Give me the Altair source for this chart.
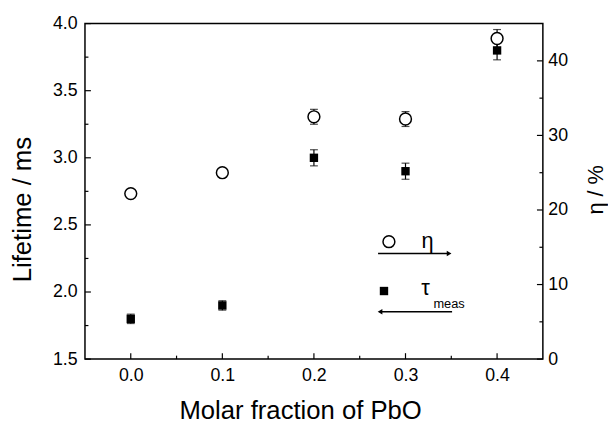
import altair as alt
import pandas as pd

# ---- data ----
x_frac = [0.0, 0.1, 0.2, 0.3, 0.4]
lifetime = [1.80, 1.90, 3.00, 2.90, 3.80]          # tau_meas / ms
lifetime_err = [0.035, 0.035, 0.06, 0.06, 0.07]
eta = [22.2, 25.0, 32.5, 32.2, 43.0]               # eta / %
eta_err = [0.5, 0.5, 1.0, 1.0, 1.2]

x_major = [0.0, 0.1, 0.2, 0.3, 0.4]
x_minor = [0.05, 0.15, 0.25, 0.35]
left_major = [1.5, 2.0, 2.5, 3.0, 3.5, 4.0]
left_minor = [1.75, 2.25, 2.75, 3.25, 3.75]
right_major = [0, 10, 20, 30, 40]
right_minor = [5, 15, 25, 35]

legend_eta = ["η"]
legend_tau = ["τ"]
legend_tau_sub = ["meas"]

df = pd.DataFrame({
    "x": x_frac,
    "tau": lifetime,
    "tau_lo": [v - e for v, e in zip(lifetime, lifetime_err)],
    "tau_hi": [v + e for v, e in zip(lifetime, lifetime_err)],
    "eta": eta,
    "eta_lo": [v - e for v, e in zip(eta, eta_err)],
    "eta_hi": [v + e for v, e in zip(eta, eta_err)],
})

W, H = 464, 340
FONT = "Liberation Sans"

XS = alt.Scale(domain=[-0.05, 0.45], nice=False, zero=False)
YL = alt.Scale(domain=[1.5, 4.0], nice=False, zero=False)
YR = alt.Scale(domain=[0, 45], nice=False, zero=False)

x_axis = alt.Axis(values=x_major, format=".1f", title="Molar fraction of PbO",
                  labelPadding=8, titleX=218, titleY=52, titleBaseline="middle",
                  titleAlign="center")
yl_axis = alt.Axis(values=left_major, format=".1f", title="Lifetime / ms",
                   labelPadding=8, titleAngle=270, titleX=-63, titleY=188,
                   titleBaseline="middle", titleAlign="center")
yr_axis = alt.Axis(values=right_major, format="d", title="η  /  %", orient="right",
                   labelPadding=5, titleAngle=270, titleX=53, titleY=168,
                   titleBaseline="middle", titleAlign="center", titleFontSize=22)

base = alt.Chart(df)
BLACK = "black"

def X(field):
    return alt.X(field, scale=XS, axis=x_axis)

def YLf(field):
    return alt.Y(field, scale=YL, axis=yl_axis, title="Lifetime / ms")

def YRf(field):
    return alt.Y(field, scale=YR, axis=yr_axis, title="η  /  %")

# ---- left axis group: lifetime ----
tau_bar = base.mark_rule(color=BLACK, strokeWidth=1.2).encode(
    x=X("x:Q"), y=YLf("tau_lo:Q"), y2="tau_hi:Q")
tau_cap_lo = base.mark_tick(orient="horizontal", size=8, thickness=1.2, color=BLACK).encode(
    x=X("x:Q"), y=YLf("tau_lo:Q"))
tau_cap_hi = base.mark_tick(orient="horizontal", size=8, thickness=1.2, color=BLACK).encode(
    x=X("x:Q"), y=YLf("tau_hi:Q"))
tau_pts = base.mark_point(shape="square", filled=True, size=72, color=BLACK, opacity=1).encode(
    x=X("x:Q"), y=YLf("tau:Q"))

def rules_y(vals, yfun, x1, x2):
    return alt.Chart(pd.DataFrame({"v": vals})).mark_rule(color=BLACK, strokeWidth=1.2).encode(
        y=yfun("v:Q"), x=alt.value(x1), x2=alt.value(x2))

def rules_x(vals, y1, y2):
    return alt.Chart(pd.DataFrame({"v": vals})).mark_rule(color=BLACK, strokeWidth=1.2).encode(
        x=X("v:Q"), y=alt.value(y1), y2=alt.value(y2))

left_ticks = alt.layer(
    rules_y(left_major, YLf, 0, 6),
    rules_y(left_minor, YLf, 0, 3.5),
    rules_x(x_major, H, H - 6),
    rules_x(x_minor, H, H - 3.5),
)

one = pd.DataFrame({"k": [0]})
leg_circle = alt.Chart(one).mark_point(shape="circle", filled=False, size=144,
                                       strokeWidth=1.5, color=BLACK, opacity=1).encode(
    x=alt.value(308), y=alt.value(221))
leg_eta = alt.Chart(pd.DataFrame({"t": legend_eta})).mark_text(
    font=FONT, fontSize=22, color=BLACK).encode(x=alt.value(347), y=alt.value(220), text="t:N")
leg_arrow1 = alt.Chart(one).mark_rule(color=BLACK, strokeWidth=1.5).encode(
    x=alt.value(297), x2=alt.value(369), y=alt.value(233))
leg_head1 = alt.Chart(one).mark_point(shape="triangle-right", filled=True, size=30,
                                      color=BLACK, opacity=1).encode(
    x=alt.value(369), y=alt.value(233))
leg_square = alt.Chart(one).mark_point(shape="square", filled=True, size=72,
                                       color=BLACK, opacity=1).encode(
    x=alt.value(303), y=alt.value(271))
leg_tau = alt.Chart(pd.DataFrame({"t": legend_tau})).mark_text(
    font=FONT, fontSize=22, color=BLACK).encode(x=alt.value(345), y=alt.value(268), text="t:N")
leg_sub = alt.Chart(pd.DataFrame({"t": legend_tau_sub})).mark_text(
    font=FONT, fontSize=13, color=BLACK).encode(x=alt.value(369), y=alt.value(284), text="t:N")
leg_arrow2 = alt.Chart(one).mark_rule(color=BLACK, strokeWidth=1.5).encode(
    x=alt.value(299), x2=alt.value(372), y=alt.value(292))
leg_head2 = alt.Chart(one).mark_point(shape="triangle-left", filled=True, size=30,
                                      color=BLACK, opacity=1).encode(
    x=alt.value(299), y=alt.value(292))

left = alt.layer(tau_bar, tau_cap_lo, tau_cap_hi, tau_pts, left_ticks,
                 leg_circle, leg_eta, leg_arrow1, leg_head1,
                 leg_square, leg_tau, leg_sub, leg_arrow2, leg_head2)

# ---- right axis group: eta ----
eta_bar = base.mark_rule(color=BLACK, strokeWidth=1.2).encode(
    x=X("x:Q"), y=YRf("eta_lo:Q"), y2="eta_hi:Q")
eta_cap_lo = base.mark_tick(orient="horizontal", size=8, thickness=1.2, color=BLACK).encode(
    x=X("x:Q"), y=YRf("eta_lo:Q"))
eta_cap_hi = base.mark_tick(orient="horizontal", size=8, thickness=1.2, color=BLACK).encode(
    x=X("x:Q"), y=YRf("eta_hi:Q"))
eta_pts = base.mark_point(shape="circle", filled=True, fill="white", stroke=BLACK,
                          strokeWidth=1.5, size=144, opacity=1).encode(
    x=X("x:Q"), y=YRf("eta:Q"))
right_ticks = alt.layer(
    rules_y(right_major, YRf, W, W - 6),
    rules_y(right_minor, YRf, W, W - 3.5),
)
right = alt.layer(eta_bar, eta_cap_lo, eta_cap_hi, eta_pts, right_ticks)

chart = alt.layer(left, right).resolve_scale(y="independent").properties(
    width=W, height=H,
    autosize=alt.AutoSizeParams(type="none"),
    padding={"left": 78, "top": 13, "right": 66, "bottom": 66},
).configure_view(
    stroke=BLACK, strokeWidth=1.5
).configure_axis(
    labelFont=FONT, labelFontSize=18, labelColor=BLACK,
    titleFont=FONT, titleFontSize=26, titleFontWeight="normal", titleColor=BLACK,
    grid=False, ticks=False, domain=False,
)

chart.save("out.html", embed_options={"renderer": "svg", "actions": False})
